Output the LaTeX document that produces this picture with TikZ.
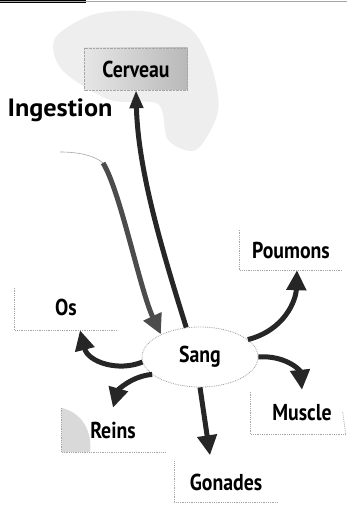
\documentclass[tikz,border=0pt]{standalone}
\usepackage{fontspec}
\setmainfont{PT Sans}[FakeStretch=0.86]
\usepackage{tikz}
\usetikzlibrary{shapes.geometric, arrows.meta, positioning, calc}

\begin{document}
\begin{tikzpicture}[x=1pt, y=-1pt, font=\bfseries\fontsize{23}{26}\selectfont]
\tikzstyle{organ} = [rectangle, minimum width=103pt, minimum height=42pt, inner sep=0pt, text centered]
\tikzstyle{edge} = [draw=gray!70, densely dotted, line width=0.8pt]
\tikzstyle{flow} = [line width=5pt, draw=black!85, -{Triangle[length=20pt, width=19pt]}]

\useasboundingbox (0,0) rectangle (347,510);

% Background
\fill[black] (0,0) rectangle (86,3);
\draw[gray!70, line width=1pt] (0,1.5) -- (347,1.5);
\fill[gray!13] plot[smooth cycle] coordinates {(55,38) (95,14) (150,12) (192,30) (212,68) (218,112) (196,150) (168,140) (158,104) (110,100) (62,70)};

% Organs
\node (cerveau) [organ, left color=gray!20, right color=gray!55, draw=gray!70, densely dotted] at (136,69) {};
\node (ingestion) [font=\bfseries\fontsize{25}{28}\selectfont\addfontfeature{FakeStretch=1.05}] at (60,110) {Ingestion};
\node (poumons) [organ, minimum height=40pt] at (291,250) {Poumons};
\node (os) [organ] at (66,309) {\raisebox{4pt}{Os}};
\node (reins) [organ, minimum height=44pt] at (113,430) {};
\node (muscle) [organ, minimum width=95pt] at (298,413) {\hspace{8pt}Muscle};
\node (gonades) [organ, minimum height=41pt] at (226,482) {Gonades};
\node (sang) [ellipse, draw=gray!75, densely dotted, line width=0.8pt, minimum width=116pt, minimum height=60pt, inner sep=0pt] at (200,357) {\raisebox{3pt}{Sang}};

% Box edges
\fill[gray!30] (reins.north west) .. controls (88,414) and (92,440) .. (90,452) -- (reins.south west) -- cycle;
\foreach \organ in {poumons, os, reins, muscle, gonades}
  \draw[edge] (\organ.north west) |- (\organ.south east);
\draw[edge] (muscle.south east) -- ++(-3,-22);
\node at (cerveau) {Cerveau};
\node at (reins) {Reins};

% Connections
\coordinate (ingtail) at (60,152);
\coordinate (ingturn) at (103,163);
\draw[gray!70, line width=0.6pt] (ingtail) .. controls (80,152) and (95,156) .. (ingturn);
\draw[flow, draw=black!70] (ingturn) .. controls (120,190) and (140,290) .. (sang.150);
\draw[flow, -{Triangle[length=18pt, width=13pt]}] (sang.115) .. controls (162,250) and (138,170) .. (cerveau.south);
\draw[flow] (sang.185) .. controls (118,372) and (88,362) .. ($(os.south)+(14,0)$);
\draw[flow] (sang.200) .. controls (132,376) and (118,390) .. (reins.north);
\draw[flow] (sang.south) -- ($(gonades.north)+(-16,-6)$);
\draw[flow] (sang.0) .. controls (285,355) and (300,370) .. ($(muscle.north)+(4,-2)$);
\draw[flow] (sang.20) .. controls (285,330) and (296,300) .. ($(poumons.south)+(6,0)$);

\end{tikzpicture}
\end{document}
